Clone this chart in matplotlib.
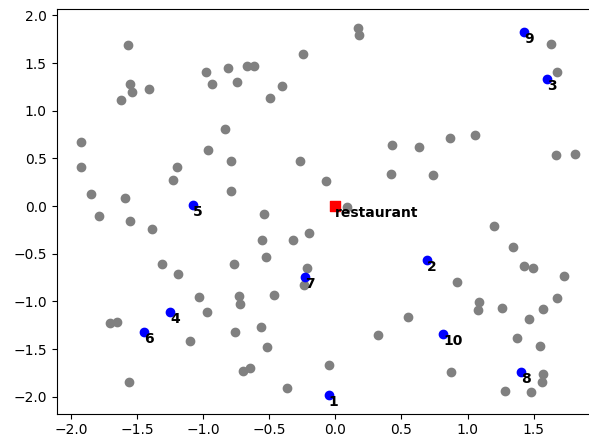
import matplotlib
matplotlib.use("Agg")
import matplotlib.pyplot as plt

# customers who are not picked
gray_x = [-1.566, -1.555, -1.538, -1.621, -1.407, -1.921, -1.921, -1.848, -1.591, -1.790,
          -1.553, -1.200, -1.225, -0.961, -0.834, -0.787, -0.787, -0.976, -0.935, -0.814,
          -0.746, -0.670, -0.615, 0.174, 0.182, -0.242, -0.405, -0.496, 0.429, 0.635,
          -0.265, -0.068, 0.421, 0.737, -0.537, 0.091, 1.629, 1.677, 0.870, 1.059,
          1.669, 1.811, -1.384, -1.311, -1.192, -0.764, -1.029, -0.731, -0.719, -0.968,
          -1.704, -1.654, -1.101, -0.756, -0.700, -0.643, -1.563, -0.197, -0.557, -0.320,
          -0.522, -0.216, -0.239, -0.461, 0.552, 0.323, -0.564, -0.514, -0.045, -0.365,
          1.200, 1.342, 1.427, 1.493, 1.730, 0.918, 1.087, 1.077, 1.259, 1.677,
          1.573, 1.465, 1.374, 1.548, 0.873, 1.573, 1.566, 1.286, 1.483]
gray_y = [1.689, 1.277, 1.193, 1.112, 1.228, 0.675, 0.412, 0.126, 0.087, -0.102,
          -0.154, 0.412, 0.270, 0.584, 0.805, 0.469, 0.157, 1.403, 1.283, 1.448,
          1.298, 1.469, 1.469, 1.871, 1.791, 1.595, 1.262, 1.136, 0.640, 0.619,
          0.469, 0.262, 0.333, 0.322, -0.081, -0.007, 1.700, 1.403, 0.714, 0.745,
          0.532, 0.542, -0.245, -0.609, -0.714, -0.609, -0.955, -0.941, -1.025, -1.115,
          -1.231, -1.220, -1.413, -1.325, -1.728, -1.703, -1.850, -0.286, -0.360, -0.360,
          -0.532, -0.654, -0.829, -0.934, -1.162, -1.354, -1.267, -1.483, -1.665, -1.907,
          -0.207, -0.427, -0.633, -0.647, -0.738, -0.794, -1.004, -1.094, -1.067, -0.965,
          -1.081, -1.183, -1.388, -1.469, -1.745, -1.766, -1.850, -1.941, -1.952]

# visited customers, in order
route_x = [-0.050, 0.694, 1.604, -1.250, -1.079, -1.445, -0.227, 1.407, 1.430, 0.817]
route_y = [-1.986, -0.567, 1.330, -1.115, 0.010, -1.319, -0.748, -1.745, 1.826, -1.346]
route_labels = [str(i) for i in range(1, 11)]

restaurant = (0.0, 0.0)

fig = plt.figure(figsize=(5.89, 4.43), dpi=100)
ax = fig.add_axes([0.0961, 0.0661, 0.9216, 0.9129])

ax.scatter(gray_x, gray_y, c="gray")
ax.scatter(route_x, route_y, c="blue")
for x, y, lab in zip(route_x, route_y, route_labels):
    ax.text(x, y, lab, fontweight="bold", ha="left", va="top")

ax.scatter(*restaurant, c="red", marker="s", s=50)
ax.text(*restaurant, "restaurant", fontweight="bold", ha="left", va="top")

fig.savefig("out.png", dpi=100)
